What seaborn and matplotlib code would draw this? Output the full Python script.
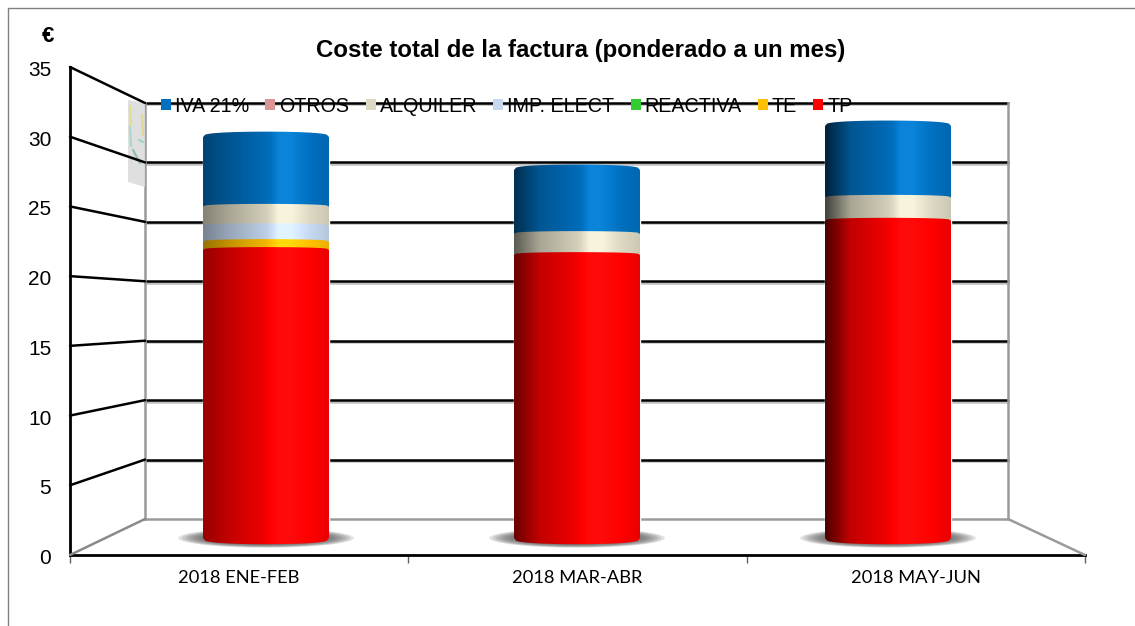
"""Coste total de la factura: stacked cylinders on a fake 3D box."""
import numpy as np
import matplotlib.pyplot as plt
import matplotlib.patheffects as pe
from matplotlib.lines import Line2D
from matplotlib.patches import ConnectionPatch, Ellipse, Patch, PathPatch, Polygon
from matplotlib.path import Path
from matplotlib.transforms import ScaledTranslation
import seaborn as sns

periods = ["2018 ENE-FEB", "2018 MAR-ABR", "2018 MAY-JUN"]
series_names = ["TP", "TE", "REACTIVA", "IMP. ELECT", "ALQUILER", "OTROS", "IVA 21%"]
tp = [22.33, 21.94, 24.6]
te = [0.62, 0.0, 0.0]
reactiva = [0.0, 0.0, 0.0]
imp_elect = [1.23, 0.0, 0.0]
alquiler = [1.5, 1.63, 1.78]
otros = [0.0, 0.0, 0.0]
iva = [5.4, 4.96, 5.56]
series_values = [tp, te, reactiva, imp_elect, alquiler, otros, iva]
series_colors = ["#ff0000", "#ffc000", "#33cc33", "#c6d9f1", "#ddd9c3", "#d99694", "#0070c0"]
y_ticks = [0, 5, 10, 15, 20, 25, 30, 35]

W, H = 1135, 626
DARK_LEFT = [0.6, 0.42, 0.3]  # left edge of each cylinder, gets darker to the right

sns.set_style("white")
plt.rcParams["font.family"] = ["Liberation Sans", "DejaVu Sans"]
plt.rcParams["text.color"] = "black"


def box(left, top, right, bottom):
    return [left / W, 1 - bottom / H, (right - left) / W, (bottom - top) / H]


def shade(color, dark):
    # horizontal cylinder shading, one row of rgb
    rgb = np.array(plt.matplotlib.colors.to_rgb(color))
    pos = np.linspace(0, 1, 128)
    mult = np.interp(pos, [0, .2, .5, .6, .7, .85, 1], [dark, .76, .95, 1.08, 1.08, 1, .92])
    out = np.zeros((1, 128, 3))
    for i, m in enumerate(mult):
        out[0, i] = rgb * m + max(0, m - 1) * .5
    return np.clip(out, 0, 1)


def cylinder_path(x0, x1, y0, y1, top_arc, bottom_arc):
    u = np.linspace(-1, 1, 60)
    xs = (x0 + x1) / 2 + u * (x1 - x0) / 2
    arc = np.sqrt(1 - u ** 2) ** .6
    top = y1 + top_arc * arc
    bottom = y0 - bottom_arc * arc
    return Path(np.r_[np.c_[xs, top], np.c_[xs[::-1], bottom[::-1]], [[xs[0], top[0]]]])


fig = plt.figure(figsize=(W / 100, H / 100), dpi=100)

# Outer border of the picture (open to the right and the bottom)
fig.add_artist(Line2D([8 / W, 1], [1 - 8 / H, 1 - 8 / H], color="#808080", lw=1))
fig.add_artist(Line2D([8 / W, 8 / W], [1 - 8 / H, 0], color="#808080", lw=1))

# Back wall
back = fig.add_axes(box(145, 103, 1008, 519))
back.patch.set_alpha(0)
back.set_xlim(0, 3)
back.set_ylim(0, 35)
back.set_xticks([])
back.set_yticks(y_ticks[1:])
back.set_yticklabels([])
back.tick_params(length=0)
back.grid(axis="y", color="black", lw=1.8)
for line in back.get_ygridlines():
    line.set_clip_on(False)
    line.set_path_effects([pe.SimpleLineShadow(offset=(0, -1), shadow_color="#808080", alpha=.5), pe.Normal()])
back.spines["top"].set_visible(False)
for side in ["left", "right", "bottom"]:
    back.spines[side].set_color("#9a9a9a")
    back.spines[side].set_linewidth(1.8)

# Front frame with the scales
front = fig.add_axes(box(70, 67, 1085, 555))
front.patch.set_alpha(0)
front.set_xlim(0, 3)
front.set_ylim(0, 35)
front.set_yticks(y_ticks)
front.set_yticklabels([str(v) for v in y_ticks], fontsize=15)
front.tick_params(axis="y", length=6, width=1, color="#404040", pad=7.5, labelcolor="black")
for label in front.get_yticklabels():
    label.set_transform(label.get_transform() + ScaledTranslation(0, -1.5 / 100, fig.dpi_scale_trans))
front.set_xticks([0, 1, 2, 3])
front.set_xticklabels([])
front.tick_params(axis="x", which="major", length=6, width=1, color="#606060", bottom=True)
front.set_xticks([.5, 1.5, 2.5], periods, minor=True, fontsize=13.2, family="Lato", color="black")
front.tick_params(axis="x", which="minor", length=0, pad=11)
front.spines["top"].set_visible(False)
front.spines["right"].set_visible(False)
front.spines["left"].set_linewidth(2)
front.spines["bottom"].set_linewidth(2)
front.spines["left"].set_color("black")
front.spines["bottom"].set_color("black")

# Side wall lines and floor, from the front scale to the back wall
for v in y_ticks:
    fig.add_artist(ConnectionPatch((0, v), (0, v), coordsA=front.transData, coordsB=back.transData,
                                   color="black" if v else "#8a8a8a", lw=1.8))
fig.add_artist(ConnectionPatch((3, 0), (3, 0), coordsA=front.transData, coordsB=back.transData,
                               color="#9a9a9a", lw=1.8))

# Stray thumbnail pasted on the left wall
fig.add_artist(Polygon([(128 / W, 1 - 100 / H), (145 / W, 1 - 103 / H), (145 / W, 1 - 187 / H), (128 / W, 1 - 182 / H)],
                       transform=fig.transFigure, fc="#dcdcdc", ec="none", alpha=.9, zorder=.5))
for (x0, y0, x1, y1, c) in [(130, 106, 131, 125, "#dfe08a"), (130, 127, 131, 146, "#a8d8c8"),
                            (142, 115, 143, 135, "#e0d890"), (133, 150, 140, 163, "#8fbfb8"),
                            (139, 140, 143, 142, "#a0d0c8")]:
    fig.add_artist(Line2D([x0 / W, x1 / W], [1 - y0 / H, 1 - y1 / H], color=c, lw=1.6, zorder=.6))

# Bars stand half way into the box, so they have a scale of their own
bars = fig.add_axes(box(110.5, 86.5, 1043.5, 550.9))
bars.patch.set_alpha(0)
bottom = np.zeros(len(periods))
for name, values, color in zip(series_names, series_values, series_colors):
    sns.barplot(x=periods, y=values, bottom=bottom, color=color, width=.405, saturation=1,
                errorbar=None, ax=bars)
    bottom = bottom + np.array(values)
bars.set_xlim(-.5, 2.5)
bars.set_ylim(-1, 35)
bars.axis("off")

# Floor shadows
for i in range(len(periods)):
    for k in np.linspace(1, .68, 9):
        bars.add_patch(Ellipse((i, .0), .565 * k, 1.5 * k, fc="#555555", ec="none", alpha=.17, zorder=1.5))

# Cylinder shading on the bars seaborn drew. Lower segments overlap upper ones
tops = np.sum(series_values, axis=0)
for s, (container, color) in enumerate(zip(bars.containers, series_colors)):
    for i, rect in enumerate(container):
        if rect.get_height() <= 0:
            continue
        x0, y0 = rect.get_x(), rect.get_y()
        x1, y1 = x0 + rect.get_width(), y0 + rect.get_height()
        is_top = abs(y1 - tops[i]) < 1e-6
        clip = PathPatch(cylinder_path(x0, x1, y0, y1, .42 if is_top else .22, .48 if s == 0 else 0),
                         transform=bars.transData, fc="none", ec="none")
        img = bars.imshow(shade(color, DARK_LEFT[i]), extent=[x0, x1, y0 - .7, y1 + .5], aspect="auto",
                          zorder=20 - s, interpolation="bilinear")
        img.set_clip_path(clip)
bars.set_xlim(-.5, 2.5)
bars.set_ylim(-1, 35)

# Legend sits on top of the last gridline, as in the original
handles = [Patch(fc=c, ec="none", label=n) for n, c in zip(series_names, series_colors)][::-1]
leg = fig.legend(handles=handles, ncol=7, loc="center left", bbox_to_anchor=(161 / W, 1 - 106 / H), frameon=False,
                 fontsize=14.2, handlelength=.51, handleheight=.51, handletextpad=.2, columnspacing=.82,
                 borderpad=0, borderaxespad=0)

fig.text(581 / W, 1 - 50 / H, "Coste total de la factura (ponderado a un mes)", fontsize=17.3, fontweight="bold",
         ha="center", va="center")
fig.text(48 / W, 1 - 36 / H, "€", fontsize=16, fontweight="bold", ha="center", va="center")

plt.savefig("out.png", dpi=100)
plt.close()
